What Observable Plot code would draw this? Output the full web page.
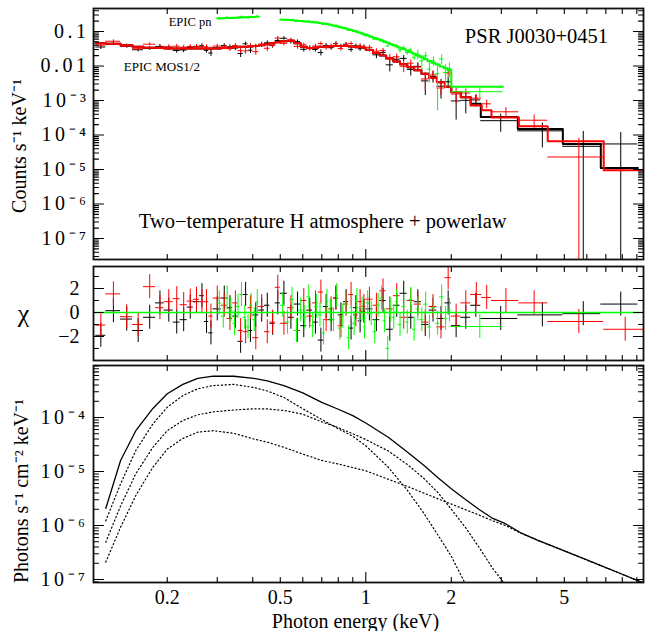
<!DOCTYPE html>
<html><head><meta charset="utf-8">
<script src="https://cdn.jsdelivr.net/npm/d3@7"></script>
<script src="https://cdn.jsdelivr.net/npm/@observablehq/plot@0.6"></script>
<style>
html,body{margin:0;padding:0;background:#fff;}
#chart{width:651px;height:631px;overflow:hidden;background:#fff;}
#chart svg{display:block;overflow:visible;}
</style></head><body><div id="chart"></div>
<script>
// ---------- scales / ticks ----------
const xDomain = [0.11, 9.5];
const topYDomain = [2.46e-8, 0.464];
const chiDomain = [-4, 3.83];
const botYDomain = [8.8e-8, 9.18e-4];

const xTickValues = [0.2, 0.5, 1, 2, 5];
const xTickLabels = ["0.2", "0.5", "1", "2", "5"];
const xMinorTicks = [0.2, 0.3, 0.4, 0.5, 0.6, 0.7, 0.8, 0.9, 2, 3, 4, 5, 6, 7, 8, 9];
const xMajorTicks = [1];
const topYTickValues = [0.1, 0.01, 1e-3, 1e-4, 1e-5, 1e-6, 1e-7];
const topYTickLabels = ["0.1", "0.01", "10⁻³", "10⁻⁴", "10⁻⁵", "10⁻⁶", "10⁻⁷"];
const chiTickValues = [2, 0, -2];
const chiTickLabels = ["2", "0", "−2"];
const chiMinorTicks = [3, 1, -1, -3];
const botYTickValues = [1e-4, 1e-5, 1e-6, 1e-7];
const botYTickLabels = ["10⁻⁴", "10⁻⁵", "10⁻⁶", "10⁻⁷"];

// ---------- EPIC MOS1 (black) ----------
const mos1Edges = [0.112,0.1215,0.137,0.151,0.165,0.182,0.195,0.21,0.222,0.235,0.247,0.26,0.27,0.28,0.29,0.31,0.325,0.34,0.355,0.37,0.385,0.4,0.42,0.44,0.46,0.48,0.5,0.53,0.56,0.59,0.62,0.65,0.68,0.71,0.74,0.77,0.8,0.835,0.87,0.905,0.94,0.97,1.0,1.06,1.12,1.18,1.25,1.32,1.4,1.48,1.57,1.67,1.78,1.9,2.0,2.16,2.34,2.54,3.43,4.94,6.72,9.08];
const mos1Model = [.046,.044,.040,.036,.034, .033,.032,.032,.032,.032,.032,.032,.032,.032,.032,.033,.034,.035,.036,.036,.037,.038,.040,.043,.046,.049, .052,.054,.046,.036,.033,.034,.036,.037,.037,.038,.038,.038,.037,.036,.035,.034, .029,.024,.020,.0165,.0135,.0112,.0092,.0075,.006,.0046,.0034,.0025, .00174,.00125,.0008,.00033,.00015,5.5e-5,1.1e-5];
const mos1Err = [.0055,.0053,.0048,.0043,.0041, .005,.0048,.0048,.0048,.0048,.0048,.0048,.0048,.0048,.0048,.005,.0051,.0053,.0054,.0054,.0056,.0057,.006,.0065,.0069,.0074, .0073,.0076,.0064,.005,.0046,.0048,.005,.0052,.0052,.0053,.0053,.0053,.0052,.005,.0049,.0048, .0052,.0048,.0044,.0041,.0036,.0034,.0029,.0026,.0023,.0018,.0015,.0013, .0007,.0006,.0004,.00014,.00009,8e-5,6.3e-5];
const mos1Val = [.0355,.0448,.0374,.0296,.0324, .037,.033,.0282,.0291,.0342,.0363,.0387,.0284,.0238,.0334,.039,.036,.0334,.023,.0441,.0286,.0369,.0412,.0469,.0398,.0549, .0637,.051,.0505,.0305,.0339,.0302,.0245,.0396,.0339,.0444,.0369,.0428,.0302,.038,.0316,.0345, .0306,.0211,.0244,.0108,.0157,.0166,.008,.0098,.0037,.005,.0026,.0035, .00097,.00101,.00104,.00026,.000132,4.7e-5,5.5e-5];
const mos1Chi = [-1.9,.15,-.55,-1.5,-.4, .8,.2,-.8,-.6,.45,.9,1.4,-.75,-1.7,.3,1.2,.4,-.3,-2.4,1.5,-1.5,-.2,.2,.6,-.9,.8, 1.6,-.4,.7,-1.1,.2,-.8,-2.3,.5,-.6,1.2,-.2,.9,-1.3,.4,-.7,.1, .3,-.6,1.0,-1.4,.6,1.6,-.4,.9,-1.0,.2,-.5,.8, -1.1,-.4,.6,-.5,-.2,-.1,.7];

// ---------- EPIC MOS2 (red) ----------
const mos2Edges = [0.112,0.1215,0.137,0.151,0.165,0.182,0.195,0.21,0.222,0.235,0.247,0.26,0.27,0.28,0.29,0.31,0.325,0.34,0.355,0.37,0.385,0.4,0.42,0.44,0.46,0.48,0.5,0.53,0.56,0.59,0.62,0.65,0.68,0.71,0.74,0.77,0.8,0.835,0.87,0.905,0.94,0.97,1.0,1.06,1.12,1.18,1.25,1.32,1.4,1.48,1.57,1.67,1.78,1.9,2.0,2.16,2.34,2.56,2.77,3.46,4.37,6.88,9.5];
const mos2Model = [.046,.044,.040,.036,.034, .033,.032,.032,.032,.032,.032,.032,.032,.032,.032,.033,.034,.035,.036,.036,.037,.038,.040,.043,.046,.049, .052,.054,.046,.036,.033,.034,.036,.037,.037,.038,.038,.038,.037,.036,.035,.034, .029,.024,.020,.0165,.0135,.0112,.0092,.0075,.006,.0046,.0034,.0025, .00175,.00125,.00072,.00052,.00032,.00018,6.6e-5,9.5e-6];
const mos2Err = [.0055,.0053,.0048,.0043,.0041, .005,.0048,.0048,.0048,.0048,.0048,.0048,.0048,.0048,.0048,.005,.0051,.0053,.0054,.0054,.0056,.0057,.006,.0065,.0069,.0074, .0073,.0076,.0064,.005,.0046,.0048,.005,.0052,.0052,.0053,.0053,.0053,.0052,.005,.0049,.0048, .0052,.0048,.0044,.0041,.0036,.0034,.0029,.0026,.0023,.0018,.0009,.0013, .0007,.0005,.0003,.00022,.00015,.00011,5.7e-5,1.2e-5];
const mos2Val = [.0402,.0522,.0383,.0317,.0428, .035,.0363,.0375,.0351,.0366,.0373,.0363,.0363,.0306,.0378,.036,.0315,.0392,.0279,.0274,.0392,.026,.043,.0326,.0405,.0645, .0454,.057,.037,.041,.0316,.0378,.0445,.0339,.0386,.0444,.0322,.0417,.0448,.035,.0394,.0364, .0347,.0269,.0279,.0177,.0185,.0098,.0121,.0093,.0042,.0055,.0023,.0063, .00154,.00165,.00117,.0008,.00047,.000268,2.3e-5,-1.3e-5];
const mos2Chi = [-1.05,1.55,-.35,-1.0,2.15, .4,.9,1.15,.65,.95,1.1,.9,.9,-.3,1.2,.6,-.5,.8,-1.5,-1.6,.4,-2.1,.5,-1.6,-.8,2.1, -.9,.4,-1.5,1.0,-.3,.8,1.7,-.6,.3,1.2,-1.1,.7,1.5,-.2,.9,.5, 1.1,.6,1.8,.3,1.4,-.4,1.0,.7,-.8,.5,-1.2,2.9, -.3,.8,1.5,1.25,1.0,.8,-.75,-1.4];

// ---------- EPIC pn (green), two stretches ----------
const pnAEdges = [0.30,0.31,0.32,0.33,0.34,0.35,0.36,0.37,0.38,0.39,0.40,0.41,0.42];
const pnAModel = [.24,.242,.245,.247,.25,.252,.255,.257,.26,.262,.265,.267];
const pnAErr = [.0096,.0097,.0098,.0099,.01,.0101,.0102,.0103,.0104,.0105,.0106,.0107];
const pnAVal = [.2477,.2391,.2568,.249,.241,.257,.2703,.2529,.2475,.2683,.2586,.2766];
const pnAChi = [.8,-.3,1.2,.2,-.9,.5,1.5,-.4,-1.2,.6,-.6,.9];

const pnBEdges = [0.50,0.52,0.54,0.56,0.58,0.60,0.62,0.64,0.66,0.68,0.70,0.72,0.74,0.76,0.78,0.80,0.82,0.84,0.86,0.88,0.90,0.92,0.94,0.96,0.98,1.00,1.03,1.06,1.09,1.12,1.15,1.18,1.21,1.24,1.27,1.30,1.34,1.38,1.42,1.46,1.50,1.55,1.60,1.65,1.70,1.76,1.82,1.88,1.94,2.00,3.04];
const pnBModel = [.22,.218,.213,.207,.2,.196,.192,.187,.182,.177,.171,.164,.157,.15,.143,.136,.129,.122,.116,.11,.104,.098,.093,.088,.083,.077,.071,.065,.06,.055,.051,.047,.043,.04,.037,.034,.031,.028,.025,.0225,.02,.0178,.0158,.014,.0124,.011,.0097,.0086,.0076,.0025];
const pnBErr = [.0066,.0065,.0064,.0062,.006,.0059,.0058,.0056,.0055,.0053,.006,.0057,.0055,.0053,.005,.0048,.0045,.0043,.0041,.0039,.0042,.0039,.0037,.0035,.0033,.0039,.0036,.0033,.003,.0028,.0033,.0031,.0028,.0026,.0024,.0051,.0047,.0042,.0038,.0034,.007,.0062,.0055,.0049,.0043,.0055,.0049,.0043,.0038,.0006];
const pnBVal = [.224,.2128,.220,.1977,.2012,.1936,.1995,.1808,.1848,.1759,.1608,.1691,.1576,.1468,.150,.1298,.1277,.125,.1074,.1116,.1002,.1019,.0912,.0891,.079,.0801,.0706,.0597,.0618,.0584,.0487,.0377,.0436,.039,.0392,.0289,.0334,.0246,.0292,.0177,.0221,.0141,.0197,.0081,.0141,.006,.016,.0065,.0084,.0018];
const pnBChi = [.6,-.8,1.1,-1.5,.2,-.4,1.3,-1.1,.5,-.2,-1.7,.9,.1,-.6,1.4,-1.3,-.3,.7,-2.1,.4,-.9,1.0,-.5,.3,-1.2,.8,-.1,-1.6,.6,1.2,-.7,-3.0,.2,-.4,.9,-1.0,.5,-.8,1.1,-1.4,.3,-.6,.7,-1.2,.4,-.9,1.3,-.5,.2,-1.17];

// ---------- unfolded model components (bottom panel) ----------
const modelE = [0.1215,0.137,0.155,0.178,0.2,0.227,0.256,0.29,0.343,0.403,0.45,0.515,0.6,0.7,0.8,0.9,1.0,1.2,1.4,1.6,1.8,2.0,2.25,2.5,2.8,3.1,3.5,4.0,5.0,6.0,7.0,8.0,9.3];
const modelTotal = [2.07e-6,1.6e-5,5.7e-5,1.47e-4,2.75e-4,4.1e-4,5.3e-4,5.85e-4,5.8e-4,5.3e-4,4.75e-4,3.9e-4,2.85e-4,1.9e-4,1.42e-4,1.08e-4,7.9e-5,4.3e-5,2.3e-5,1.3e-5,7.6e-6,4.8e-6,3.0e-6,2.0e-6,1.35e-6,1.08e-6,7.4e-7,5.4e-7,3.4e-7,2.3e-7,1.66e-7,1.25e-7,9.0e-8];
const modelCool = [1.22e-6,5.9e-6,2.45e-5,7.6e-5,1.55e-4,2.55e-4,3.4e-4,3.9e-4,4.1e-4,3.6e-4,3.1e-4,2.35e-4,1.45e-4,9.2e-5,6.2e-5,4.5e-5,3.0e-5,1.2e-5,4.5e-6,1.7e-6,6.5e-7,2.7e-7,8e-8,null,null,null,null,null,null,null,null,null,null];
const modelHot = [4.9e-7,2.3e-6,9.1e-6,2.8e-5,5.7e-5,8.8e-5,1.12e-4,1.27e-4,1.38e-4,1.45e-4,1.44e-4,1.35e-4,1.15e-4,8.3e-5,6.5e-5,5.0e-5,3.9e-5,2.4e-5,1.35e-5,7.5e-6,4.0e-6,2.0e-6,9e-7,4e-7,1.6e-7,8e-8,null,null,null,null,null,null,null];
const modelPow = [2.1e-7,9.3e-7,3.6e-6,1.2e-5,2.6e-5,4.1e-5,5.35e-5,5.7e-5,5.1e-5,4.0e-5,3.5e-5,2.8e-5,2.1e-5,1.6e-5,1.38e-5,1.18e-5,1.03e-5,7.2e-6,5.3e-6,4.0e-6,3.1e-6,2.5e-6,1.95e-6,1.57e-6,1.22e-6,1.0e-6,7.3e-7,5.4e-7,3.4e-7,2.3e-7,1.66e-7,1.25e-7,9.0e-8];

// ---------- helpers ----------
const BLACK = "#000000", RED = "#ff0000", GREEN = "#00ff00";
const FONT = "'Liberation Serif', 'Times New Roman', serif";

function makeBins(edges, val, err, mod, chi) {
  return val.map((v, i) => ({lo: edges[i], hi: edges[i + 1], mid: (edges[i] + edges[i + 1]) / 2, v, e: err[i], m: mod[i], chi: chi[i]}));
}
const mos1 = makeBins(mos1Edges, mos1Val, mos1Err, mos1Model, mos1Chi);
const mos2 = makeBins(mos2Edges, mos2Val, mos2Err, mos2Model, mos2Chi);
const pnA = makeBins(pnAEdges, pnAVal, pnAErr, pnAModel, pnAChi);
const pnB = makeBins(pnBEdges, pnBVal, pnBErr, pnBModel, pnBChi);

const stepPts = b => b.flatMap(d => [{x: d.lo, y: d.m}, {x: d.hi, y: d.m}]);

function topCross(b, color) {
  const pos = b.filter(d => d.v > 0);
  return [
    Plot.ruleY(pos, {y: "v", x1: "lo", x2: "hi", stroke: color, strokeWidth: 1, clip: true}),
    Plot.ruleX(pos, {x: "mid", y1: d => Math.max(d.v - d.e, 1e-12), y2: d => d.v + d.e, stroke: color, strokeWidth: 1, clip: true})
  ];
}
function topModel(b, color) {
  return Plot.line(stepPts(b), {x: "x", y: "y", stroke: color, strokeWidth: 2, clip: true});
}
function resCross(b, color) {
  return [
    Plot.ruleY(b, {y: "chi", x1: "lo", x2: "hi", stroke: color, strokeWidth: 1, clip: true}),
    Plot.ruleX(b, {x: "mid", y1: d => d.chi - 1, y2: d => d.chi + 1, stroke: color, strokeWidth: 1, clip: true})
  ];
}

const tickShape = {draw(ctx, l) { ctx.moveTo(0, 0); ctx.lineTo(0, -l); }};
function ticksX(vals, len) {
  return [
    Plot.vector(vals, {x: d => d, frameAnchor: "bottom", length: len, rotate: 0, anchor: "start", shape: tickShape, stroke: BLACK, strokeWidth: 1.1}),
    Plot.vector(vals, {x: d => d, frameAnchor: "top", length: len, rotate: 180, anchor: "start", shape: tickShape, stroke: BLACK, strokeWidth: 1.1})
  ];
}
function ticksY(vals, len) {
  return [
    Plot.vector(vals, {y: d => d, frameAnchor: "left", length: len, rotate: 90, anchor: "start", shape: tickShape, stroke: BLACK, strokeWidth: 1.1}),
    Plot.vector(vals, {y: d => d, frameAnchor: "right", length: len, rotate: -90, anchor: "start", shape: tickShape, stroke: BLACK, strokeWidth: 1.1})
  ];
}
function logTicks(domain, ks) {
  const out = [];
  for (let p = -10; p <= 1; p++) for (const k of ks) {
    const v = +(k * Math.pow(10, p)).toPrecision(6);
    if (v > domain[0] && v < domain[1]) out.push(v);
  }
  return out;
}
const lab = (vals, labels) => { const m = new Map(vals.map((v, i) => [v, labels[i]])); return d => m.get(d); };
const svgStyle = {fontFamily: FONT, fontSize: "20px", background: "transparent", color: "#000", overflow: "visible"};
const frameMark = () => Plot.frame({stroke: "#111", strokeWidth: 1.8});
const xAll = () => [...ticksX(xMinorTicks, 5), ...ticksX(xMajorTicks, 10)];

// ---------- top panel: counts ----------
const topPanel = Plot.plot({
  width: 651, height: 262, marginLeft: 93, marginRight: 8, marginTop: 8, marginBottom: 3,
  style: svgStyle,
  x: {type: "log", domain: xDomain, axis: null},
  y: {type: "log", domain: topYDomain, axis: null},
  marks: [
    ...topCross(mos1, BLACK), topModel(mos1, BLACK),
    ...topCross(mos2, RED), topModel(mos2, RED),
    ...topCross(pnA, GREEN), topModel(pnA, GREEN),
    ...topCross(pnB, GREEN), topModel(pnB, GREEN),
    frameMark(),
    ...xAll(),
    ...ticksY(logTicks(topYDomain, [2,3,4,5,6,7,8,9]), 5),
    ...ticksY(logTicks(topYDomain, [1]), 10),
    Plot.axisY({ticks: topYTickValues, tickFormat: lab(topYTickValues, topYTickLabels), tickSize: 0, tickPadding: 4, label: null, fontSize: 20}),
    Plot.text(["Counts s⁻¹ keV⁻¹"], {frameAnchor: "left", rotate: -90, dx: -74, dy: 12, textAnchor: "middle", fontSize: 20}),
    Plot.text(["EPIC pn"], {x: 0.2024, y: 0.144, textAnchor: "start", lineAnchor: "bottom", fontSize: 12.5}),
    Plot.text(["EPIC MOS1/2"], {x: 0.1406, y: 0.00693, textAnchor: "start", lineAnchor: "bottom", fontSize: 13}),
    Plot.text(["PSR J0030+0451"], {x: 2.232, y: 0.0449, textAnchor: "start", lineAnchor: "bottom", fontSize: 20.5}),
    Plot.text(["Two−temperature H atmosphere + powerlaw"], {x: 0.1588, y: 1.95e-7, textAnchor: "start", lineAnchor: "bottom", fontSize: 20.5})
  ]
});

// ---------- middle panel: residuals ----------
const midPanel = Plot.plot({
  width: 651, height: 101, marginLeft: 93, marginRight: 8, marginTop: 4, marginBottom: 3,
  style: svgStyle,
  x: {type: "log", domain: xDomain, axis: null},
  y: {domain: chiDomain, axis: null},
  marks: [
    ...resCross(mos1, BLACK),
    ...resCross(mos2, RED),
    ...resCross(pnA, GREEN),
    ...resCross(pnB, GREEN),
    Plot.ruleY([0], {stroke: GREEN, strokeWidth: 1.5}),
    frameMark(),
    ...xAll(),
    ...ticksY(chiMinorTicks, 5),
    ...ticksY(chiTickValues, 10),
    Plot.axisY({ticks: chiTickValues, tickFormat: lab(chiTickValues, chiTickLabels), tickSize: 0, tickPadding: 14, label: null, fontSize: 20}),
    Plot.text(["χ"], {frameAnchor: "left", dx: -70, textAnchor: "middle", fontSize: 26})
  ]
});

// ---------- bottom panel: unfolded model ----------
const comps = modelE.map((E, i) => ({E, total: modelTotal[i], cool: modelCool[i], hot: modelHot[i], pow: modelPow[i]}));
const botPanel = Plot.plot({
  width: 651, height: 268, marginLeft: 93, marginRight: 8, marginTop: 2, marginBottom: 49,
  style: svgStyle,
  x: {type: "log", domain: xDomain, axis: null},
  y: {type: "log", domain: botYDomain, axis: null},
  marks: [
    Plot.line(comps, {x: "E", y: "cool", stroke: BLACK, strokeWidth: 1.2, strokeDasharray: "1.2,2.6", clip: true}),
    Plot.line(comps, {x: "E", y: "hot", stroke: BLACK, strokeWidth: 1.2, strokeDasharray: "1.2,2.6", clip: true}),
    Plot.line(comps, {x: "E", y: "pow", stroke: BLACK, strokeWidth: 1.2, strokeDasharray: "1.2,2.6", clip: true}),
    Plot.line(comps, {x: "E", y: "total", stroke: BLACK, strokeWidth: 1.3, clip: true}),
    frameMark(),
    ...xAll(),
    ...ticksY(logTicks(botYDomain, [2,3,4,5,6,7,8,9]), 5),
    ...ticksY(logTicks(botYDomain, [1]), 10),
    Plot.axisY({ticks: botYTickValues, tickFormat: lab(botYTickValues, botYTickLabels), tickSize: 0, tickPadding: 5, label: null, fontSize: 20}),
    Plot.axisX({ticks: xTickValues, tickFormat: lab(xTickValues, xTickLabels), tickSize: 0, tickPadding: 7, label: null, fontSize: 20}),
    Plot.text(["Photons s⁻¹ cm⁻² keV⁻¹"], {frameAnchor: "left", rotate: -90, dx: -72, dy: 17, textAnchor: "middle", fontSize: 20}),
    Plot.text(["Photon energy (keV)"], {frameAnchor: "bottom", dx: -13, dy: 45, lineAnchor: "bottom", fontSize: 20})
  ]
});

// the reference sets its vertical-axis numbers with a looser letter spacing
for (const svg of [topPanel, botPanel]) {
  svg.querySelectorAll('[aria-label="y-axis tick label"] text').forEach(t => t.setAttribute("letter-spacing", "3.5"));
}

document.getElementById("chart").append(topPanel, midPanel, botPanel);
</script></body></html>
